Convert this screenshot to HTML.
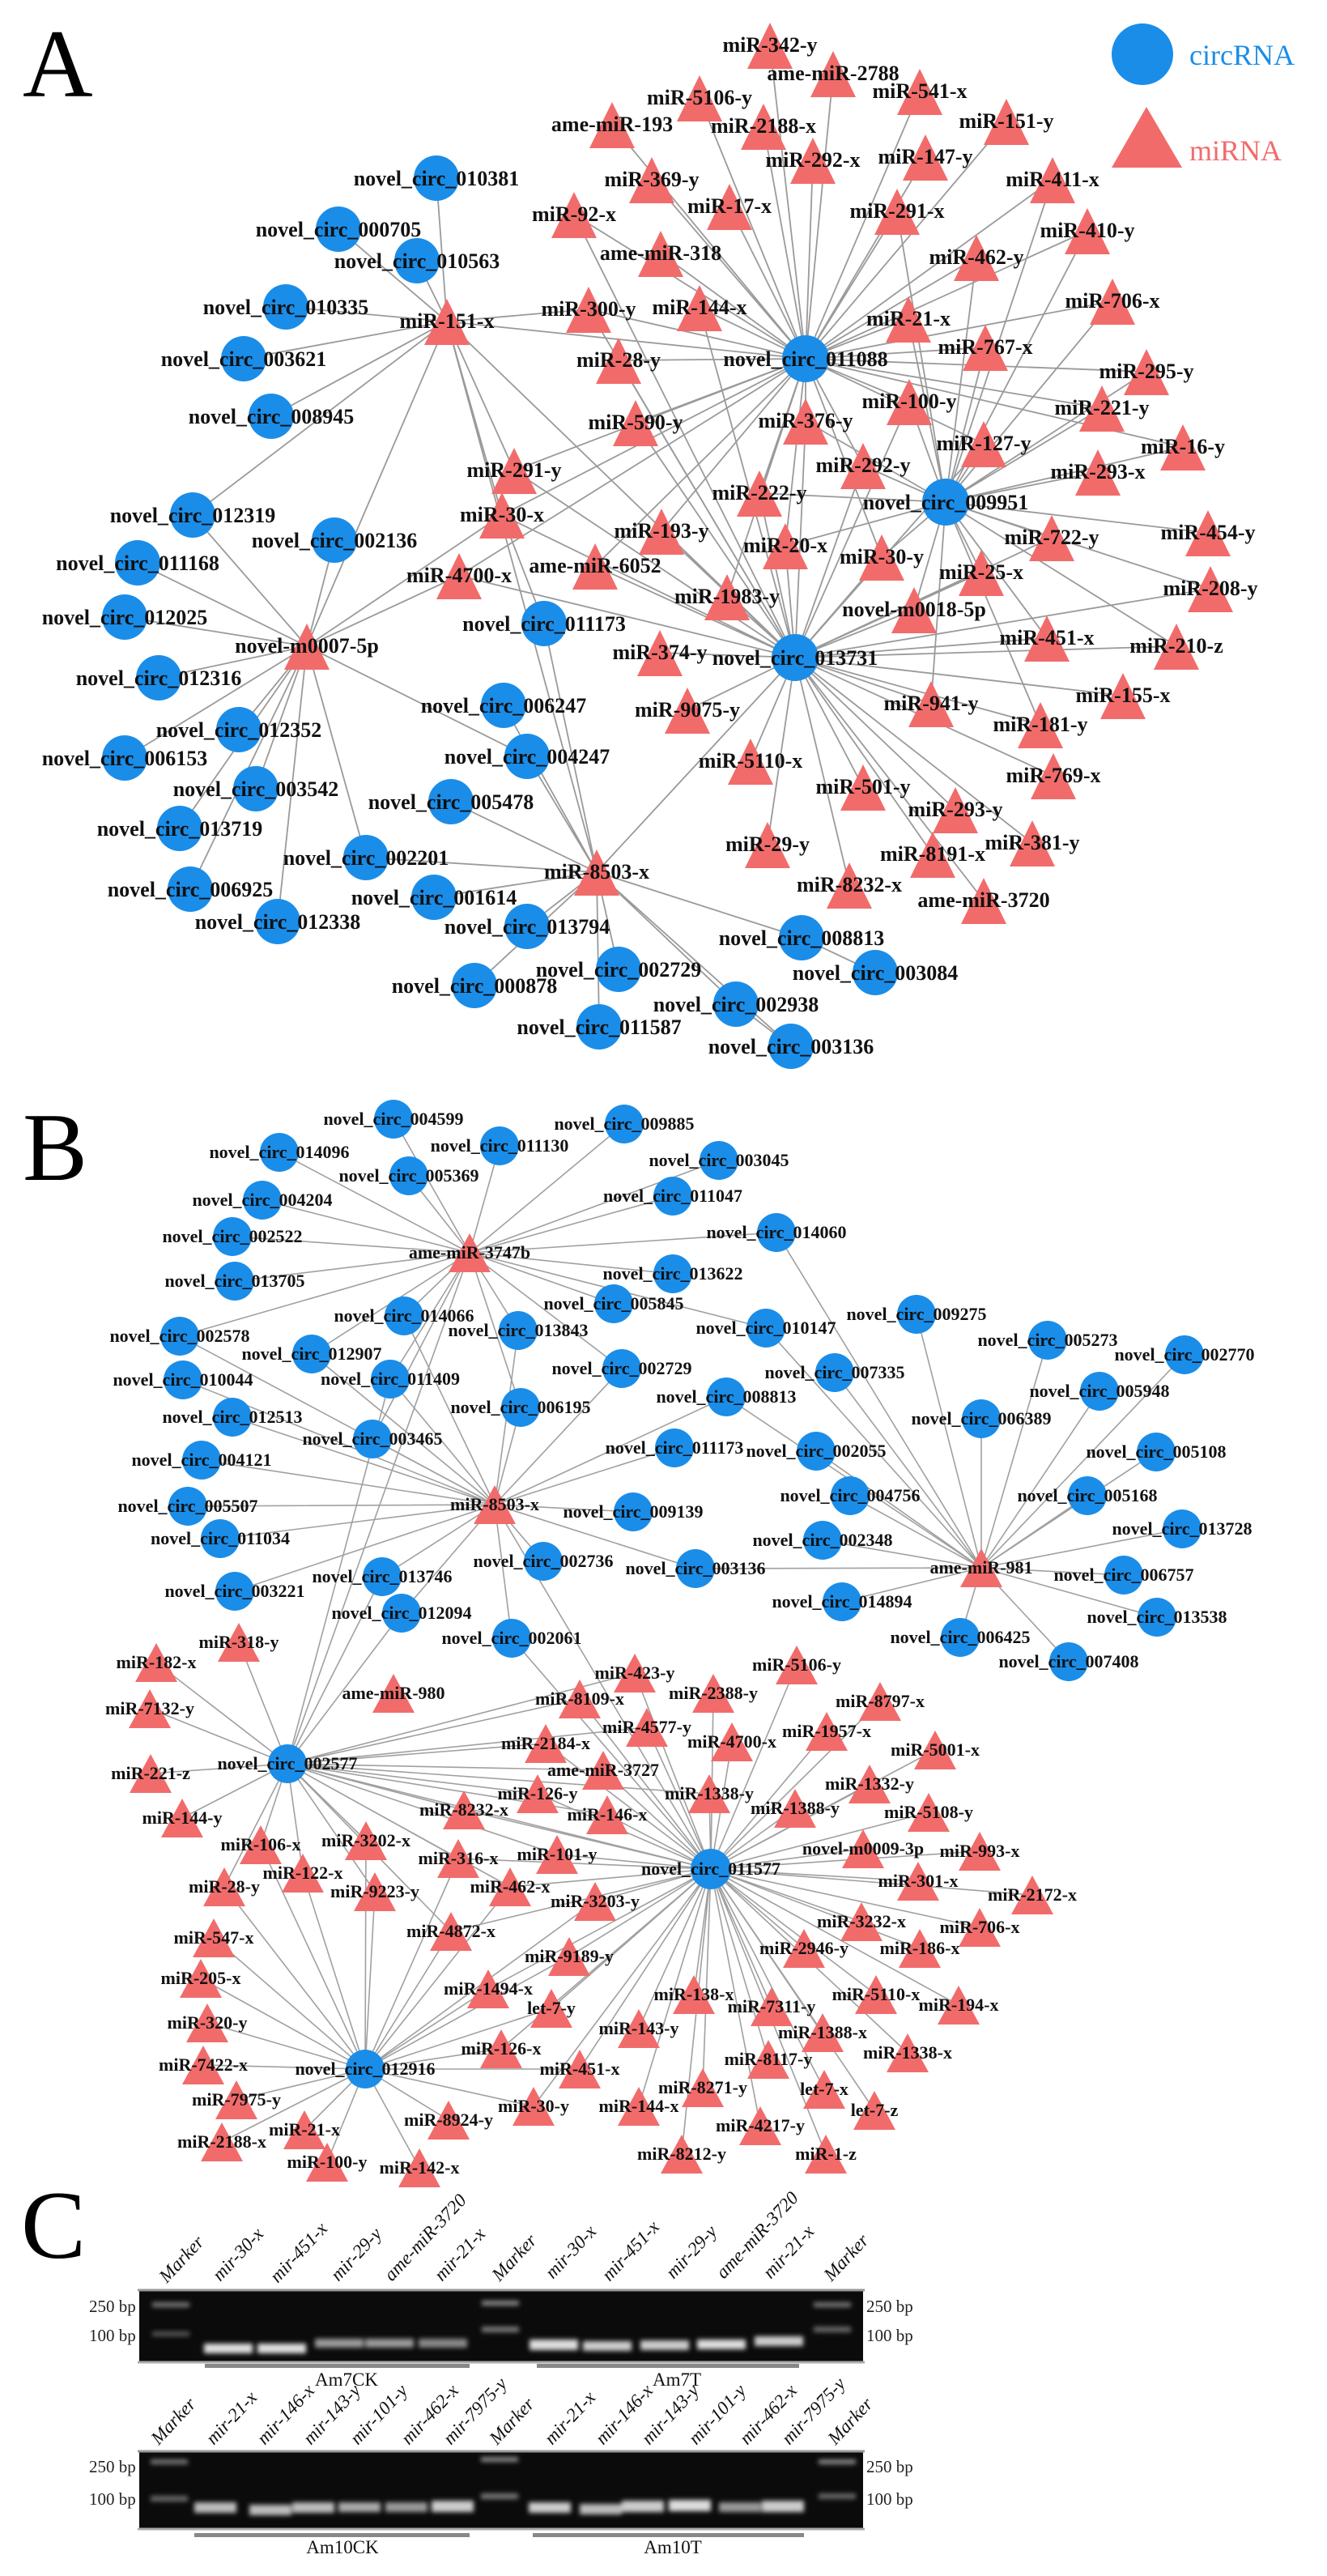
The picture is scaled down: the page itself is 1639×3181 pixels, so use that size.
<!DOCTYPE html>
<html><head><meta charset="utf-8"><style>
html,body{margin:0;padding:0;background:#fff}
svg{display:block}
text{font-family:"Liberation Serif","Times New Roman",serif}
.a{font-size:26px;font-weight:bold;text-anchor:middle;fill:#111}
.b{font-size:22px;font-weight:bold;text-anchor:middle;fill:#111}
.g{font-size:23px;font-style:italic;fill:#111}
.bp{font-size:21px;fill:#222}
.sm{font-size:23px;fill:#111;text-anchor:middle}
.big{font-size:120px;fill:#000}
</style></head><body>
<svg width="1639" height="3181" viewBox="0 0 1639 3181" xmlns="http://www.w3.org/2000/svg">
<defs><filter id="bl" x="-30%" y="-100%" width="160%" height="300%"><feGaussianBlur stdDeviation="3"/></filter></defs>
<rect width="1639" height="3181" fill="#fff"/>
<text class="big" x="28" y="119">A</text>
<text class="big" x="28" y="1457">B</text>
<text class="big" x="26" y="2788">C</text>

<!-- legend -->
<circle cx="1411" cy="67" r="38" fill="#1a8de9"/>
<text x="1469" y="80" style="font-size:36px;fill:#1a8de9">circRNA</text>
<path d="M1416 132L1460 207H1373Z" fill="#f26b6b"/>
<text x="1469" y="198" style="font-size:36px;fill:#f26b6b">miRNA</text>

<!-- EDGES A -->
<g stroke="#9a9a9a" stroke-width="1.8" fill="none">
<path d="M995 443L951 56M995 443L1029 91M995 443L864 121M995 443L1136 113M995 443L756 154M995 443L943 156M995 443L1243 150M995 443L1004 198M995 443L1143 194M995 443L1300 222M995 443L805 222M995 443L901 255M995 443L709 265M995 443L1108 261M995 443L816 313M995 443L1343 285M995 443L1206 318M995 443L727 382M995 443L864 380M995 443L1374 372M995 443L1122 394M995 443L552 397M995 443L1217 429M995 443L764 445M995 443L1123 496M995 443L1416 459M995 443L1361 504M995 443L785 522M995 443L995 520M995 443L1215 548M995 443L1461 552M995 443L1066 575M995 443L938 609M995 443L620 636M995 443L635 581M995 443L567 711M995 443L735 699M995 443L817 656M995 443L970 674M995 443L898 737M995 443L1089 688"/>
<path d="M1168 620L1343 285M1168 620L1206 318M1168 620L1374 372M1168 620L1122 394M1168 620L1217 429M1168 620L1123 496M1168 620L1361 504M1168 620L1215 548M1168 620L1461 552M1168 620L1356 583M1168 620L1299 664M1168 620L1492 658M1168 620L1495 727M1168 620L1212 707M1168 620L1089 688M1168 620L1129 753M1168 620L1293 788M1168 620L1453 798M1168 620L1285 895M1168 620L1066 575M1168 620L995 520M1168 620L1300 222M1168 620L938 609M1168 620L970 674M1168 620L1150 869M1168 620L1416 459M1168 620L1108 261"/>
<path d="M982 812L635 581M982 812L620 636M982 812L567 711M982 812L735 699M982 812L817 656M982 812L938 609M982 812L970 674M982 812L898 737M982 812L815 806M982 812L849 877M982 812L927 940M982 812L948 1043M982 812L1049 1093M982 812L1066 972M982 812L1152 1055M982 812L1180 1000M982 812L1215 1112M982 812L1275 1041M982 812L1301 958M982 812L1150 869M982 812L1285 895M982 812L1387 859M982 812L1293 788M982 812L1453 798M982 812L1495 727M982 812L1212 707M982 812L1129 753M982 812L1089 688M982 812L1066 575M982 812L995 520M982 812L785 522M982 812L764 445M982 812L727 382M982 812L864 380M982 812L737 1077M982 812L1299 664M982 812L1215 548M982 812L1123 496M982 812L552 397M982 812L709 265"/>
<path d="M552 397L539 220M552 397L418 283M552 397L515 322M552 397L353 379M552 397L301 443M552 397L335 514M552 397L635 581M552 397L620 636M552 397L379 798M552 397L238 636M552 397L737 1077M552 397L727 382"/>
<path d="M379 798L238 636M379 798L413 667M379 798L170 695M379 798L154 762M379 798L196 837M379 798L295 901M379 798L154 936M379 798L316 974M379 798L222 1023M379 798L235 1098M379 798L343 1138M379 798L452 1059M379 798L567 711M379 798L620 636M379 798L651 934"/>
<path d="M737 1077L672 770M737 1077L622 871M737 1077L651 934M737 1077L557 990M737 1077L452 1059M737 1077L536 1108M737 1077L651 1144M737 1077L586 1217M737 1077L764 1197M737 1077L740 1268M737 1077L990 1158M737 1077L909 1240M737 1077L977 1292M990 1158L1081 1201M909 1240L977 1292M672 770L620 636"/>
</g>

<!-- EDGES B -->
<g stroke="#a0a0a0" stroke-width="1.6" fill="none">
<path d="M580 1547L486 1382M580 1547L771 1388M580 1547L617 1415M580 1547L345 1423M580 1547L888 1433M580 1547L505 1452M580 1547L324 1482M580 1547L831 1477M580 1547L287 1527M580 1547L959 1522M580 1547L290 1582M580 1547L831 1573M580 1547L758 1610M580 1547L499 1625M580 1547L640 1643M580 1547L222 1650M580 1547L385 1672M580 1547L482 1703M580 1547L946 1640M580 1547L768 1690M580 1547L643 1738M580 1547L355 2178M580 1547L460 1777"/>
<path d="M611 1858L226 1704M611 1858L482 1703M611 1858L897 1725M611 1858L643 1738M611 1858L287 1750M611 1858L460 1777M611 1858L833 1788M611 1858L249 1803M611 1858L232 1860M611 1858L782 1867M611 1858L272 1900M611 1858L671 1928M611 1858L859 1937M611 1858L472 1947M611 1858L290 1965M611 1858L496 1992M611 1858L632 2023M611 1858L499 1625M611 1858L640 1643M611 1858L768 1690M611 1858L385 1672M611 1858L222 1650M611 1858L878 2308"/>
<path d="M1212 1936L1132 1623M1212 1936L1294 1655M1212 1936L1463 1673M1212 1936L1358 1718M1212 1936L1212 1752M1212 1936L1428 1793M1212 1936L1343 1847M1212 1936L1460 1888M1212 1936L1388 1945M1212 1936L1429 1997M1212 1936L1320 2052M1212 1936L1186 2022M1212 1936L1040 1978M1212 1936L1016 1902M1212 1936L1050 1847M1212 1936L1008 1792M1212 1936L1031 1695M1212 1936L946 1640M1212 1936L959 1522M1212 1936L859 1937M1212 1936L897 1725"/>
<path d="M355 2178L295 2028M355 2178L193 2053M355 2178L185 2110M355 2178L186 2190M355 2178L225 2245M355 2178L322 2278M355 2178L452 2273M355 2178L374 2313M355 2178L277 2330M355 2178L463 2336M355 2178L573 2235M355 2178L566 2295M355 2178L664 2215M355 2178L750 2241M355 2178L716 2098M355 2178L784 2066M355 2178L674 2153M355 2178L799 2133M355 2178L745 2186M355 2178L876 2215M355 2178L688 2290M355 2178L630 2330M355 2178L496 1992M355 2178L472 1947M355 2178L878 2308M355 2178L557 2385M355 2178L482 1703"/>
<path d="M878 2308L784 2066M878 2308L984 2056M878 2308L716 2098M878 2308L881 2091M878 2308L1087 2101M878 2308L799 2133M878 2308L1021 2138M878 2308L674 2153M878 2308L904 2151M878 2308L1155 2161M878 2308L745 2186M878 2308L664 2215M878 2308L876 2215M878 2308L1074 2203M878 2308L573 2235M878 2308L750 2241M878 2308L982 2233M878 2308L1147 2238M878 2308L566 2295M878 2308L688 2290M878 2308L1066 2283M878 2308L1210 2286M878 2308L630 2330M878 2308L1134 2323M878 2308L1275 2340M878 2308L735 2348M878 2308L1064 2373M878 2308L1210 2380M878 2308L557 2385M878 2308L993 2406M878 2308L1136 2406M878 2308L703 2416M878 2308L603 2456M878 2308L857 2463M878 2308L1082 2463M878 2308L1184 2476M878 2308L681 2480M878 2308L953 2478M878 2308L789 2505M878 2308L1016 2510M878 2308L619 2530M878 2308L1121 2535M878 2308L716 2555M878 2308L949 2543M878 2308L659 2601M878 2308L789 2601M878 2308L868 2578M878 2308L1018 2580M878 2308L1080 2606M878 2308L939 2625M878 2308L842 2660M878 2308L1020 2660M878 2308L632 2023"/>
<path d="M451 2555L264 2393M451 2555L248 2443M451 2555L256 2498M451 2555L251 2550M451 2555L292 2593M451 2555L274 2645M451 2555L376 2630M451 2555L404 2670M451 2555L518 2677M451 2555L554 2618M451 2555L659 2601M451 2555L716 2555M451 2555L619 2530M451 2555L681 2480M451 2555L603 2456M451 2555L703 2416M451 2555L557 2385M451 2555L735 2348M451 2555L463 2336M451 2555L452 2273M451 2555L374 2313M451 2555L322 2278M451 2555L277 2330M451 2555L566 2295M451 2555L630 2330"/>
</g>

<!-- NODES A -->
<g fill="#1a8de9">
<circle cx="539" cy="220" r="28"/><circle cx="418" cy="283" r="28"/><circle cx="515" cy="322" r="28"/><circle cx="353" cy="379" r="28"/><circle cx="301" cy="443" r="28"/><circle cx="335" cy="514" r="28"/><circle cx="238" cy="636" r="28"/><circle cx="413" cy="667" r="28"/><circle cx="170" cy="695" r="28"/><circle cx="154" cy="762" r="28"/><circle cx="196" cy="837" r="28"/><circle cx="295" cy="901" r="28"/><circle cx="154" cy="936" r="28"/><circle cx="316" cy="974" r="28"/><circle cx="222" cy="1023" r="28"/><circle cx="235" cy="1098" r="28"/><circle cx="343" cy="1138" r="28"/><circle cx="452" cy="1059" r="28"/><circle cx="536" cy="1108" r="28"/><circle cx="651" cy="1144" r="28"/><circle cx="586" cy="1217" r="28"/><circle cx="622" cy="871" r="28"/><circle cx="651" cy="934" r="28"/><circle cx="557" cy="990" r="28"/><circle cx="672" cy="770" r="28"/><circle cx="764" cy="1197" r="28"/><circle cx="740" cy="1268" r="28"/><circle cx="990" cy="1158" r="28"/><circle cx="1081" cy="1201" r="28"/><circle cx="909" cy="1240" r="28"/><circle cx="977" cy="1292" r="28"/><circle cx="995" cy="443" r="29"/><circle cx="1168" cy="620" r="29"/><circle cx="982" cy="812" r="29"/>
</g>
<g fill="#f26b6b">
<path d="M951 28l28 57h-56zM1029 63l28 57h-56zM864 93l28 57h-56zM1136 85l28 57h-56zM756 126l28 57h-56zM943 128l28 57h-56zM1243 122l28 57h-56zM1004 170l28 57h-56zM1143 166l28 57h-56zM1300 194l28 57h-56zM805 194l28 57h-56zM901 227l28 57h-56zM709 237l28 57h-56zM1108 233l28 57h-56zM816 285l28 57h-56zM1343 257l28 57h-56zM1206 290l28 57h-56zM727 354l28 57h-56zM864 352l28 57h-56zM1374 344l28 57h-56zM1122 366l28 57h-56zM552 369l28 57h-56zM1217 401l28 57h-56zM764 417l28 57h-56zM1123 468l28 57h-56zM1416 431l28 57h-56zM1361 476l28 57h-56zM785 494l28 57h-56zM995 492l28 57h-56zM1215 520l28 57h-56zM1461 524l28 57h-56zM1066 547l28 57h-56zM1356 555l28 57h-56zM635 553l28 57h-56zM938 581l28 57h-56zM620 608l28 57h-56zM817 628l28 57h-56zM970 646l28 57h-56zM1299 636l28 57h-56zM1492 630l28 57h-56zM1089 660l28 57h-56zM1212 679l28 57h-56zM1495 699l28 57h-56zM567 683l28 57h-56zM735 671l28 57h-56zM898 709l28 57h-56zM1129 725l28 57h-56zM379 770l28 57h-56zM1293 760l28 57h-56zM1453 770l28 57h-56zM815 778l28 57h-56zM849 849l28 57h-56zM1387 831l28 57h-56zM1150 841l28 57h-56zM1285 867l28 57h-56zM927 912l28 57h-56zM1301 930l28 57h-56zM1066 944l28 57h-56zM1180 972l28 57h-56zM948 1015l28 57h-56zM1275 1013l28 57h-56zM1152 1027l28 57h-56zM1049 1065l28 57h-56zM1215 1084l28 57h-56zM737 1049l28 57h-56z"/>
</g>

<!-- LABELS A -->
<g class="a">
<text class="a" x="539" y="229">novel_circ_010381</text><text class="a" x="418" y="292">novel_circ_000705</text><text class="a" x="515" y="331">novel_circ_010563</text><text class="a" x="353" y="388">novel_circ_010335</text><text class="a" x="301" y="452">novel_circ_003621</text><text class="a" x="335" y="523">novel_circ_008945</text><text class="a" x="238" y="645">novel_circ_012319</text><text class="a" x="413" y="676">novel_circ_002136</text><text class="a" x="170" y="704">novel_circ_011168</text><text class="a" x="154" y="771">novel_circ_012025</text><text class="a" x="196" y="846">novel_circ_012316</text><text class="a" x="295" y="910">novel_circ_012352</text><text class="a" x="154" y="945">novel_circ_006153</text><text class="a" x="316" y="983">novel_circ_003542</text><text class="a" x="222" y="1032">novel_circ_013719</text><text class="a" x="235" y="1107">novel_circ_006925</text><text class="a" x="343" y="1147">novel_circ_012338</text><text class="a" x="452" y="1068">novel_circ_002201</text><text class="a" x="536" y="1117">novel_circ_001614</text><text class="a" x="651" y="1153">novel_circ_013794</text><text class="a" x="586" y="1226">novel_circ_000878</text><text class="a" x="622" y="880">novel_circ_006247</text><text class="a" x="651" y="943">novel_circ_004247</text><text class="a" x="557" y="999">novel_circ_005478</text><text class="a" x="672" y="779">novel_circ_011173</text><text class="a" x="764" y="1206">novel_circ_002729</text><text class="a" x="740" y="1277">novel_circ_011587</text><text class="a" x="990" y="1167">novel_circ_008813</text><text class="a" x="1081" y="1210">novel_circ_003084</text><text class="a" x="909" y="1249">novel_circ_002938</text><text class="a" x="977" y="1301">novel_circ_003136</text><text class="a" x="995" y="452">novel_circ_011088</text><text class="a" x="1168" y="629">novel_circ_009951</text><text class="a" x="982" y="821">novel_circ_013731</text>
<text class="a" x="951" y="64">miR-342-y</text><text class="a" x="1029" y="99">ame-miR-2788</text><text class="a" x="864" y="129">miR-5106-y</text><text class="a" x="1136" y="121">miR-541-x</text><text class="a" x="756" y="162">ame-miR-193</text><text class="a" x="943" y="164">miR-2188-x</text><text class="a" x="1243" y="158">miR-151-y</text><text class="a" x="1004" y="206">miR-292-x</text><text class="a" x="1143" y="202">miR-147-y</text><text class="a" x="1300" y="230">miR-411-x</text><text class="a" x="805" y="230">miR-369-y</text><text class="a" x="901" y="263">miR-17-x</text><text class="a" x="709" y="273">miR-92-x</text><text class="a" x="1108" y="269">miR-291-x</text><text class="a" x="816" y="321">ame-miR-318</text><text class="a" x="1343" y="293">miR-410-y</text><text class="a" x="1206" y="326">miR-462-y</text><text class="a" x="727" y="390">miR-300-y</text><text class="a" x="864" y="388">miR-144-x</text><text class="a" x="1374" y="380">miR-706-x</text><text class="a" x="1122" y="402">miR-21-x</text><text class="a" x="552" y="405">miR-151-x</text><text class="a" x="1217" y="437">miR-767-x</text><text class="a" x="764" y="453">miR-28-y</text><text class="a" x="1123" y="504">miR-100-y</text><text class="a" x="1416" y="467">miR-295-y</text><text class="a" x="1361" y="512">miR-221-y</text><text class="a" x="785" y="530">miR-590-y</text><text class="a" x="995" y="528">miR-376-y</text><text class="a" x="1215" y="556">miR-127-y</text><text class="a" x="1461" y="560">miR-16-y</text><text class="a" x="1066" y="583">miR-292-y</text><text class="a" x="1356" y="591">miR-293-x</text><text class="a" x="635" y="589">miR-291-y</text><text class="a" x="938" y="617">miR-222-y</text><text class="a" x="620" y="644">miR-30-x</text><text class="a" x="817" y="664">miR-193-y</text><text class="a" x="970" y="682">miR-20-x</text><text class="a" x="1299" y="672">miR-722-y</text><text class="a" x="1492" y="666">miR-454-y</text><text class="a" x="1089" y="696">miR-30-y</text><text class="a" x="1212" y="715">miR-25-x</text><text class="a" x="1495" y="735">miR-208-y</text><text class="a" x="567" y="719">miR-4700-x</text><text class="a" x="735" y="707">ame-miR-6052</text><text class="a" x="898" y="745">miR-1983-y</text><text class="a" x="1129" y="761">novel-m0018-5p</text><text class="a" x="379" y="806">novel-m0007-5p</text><text class="a" x="1293" y="796">miR-451-x</text><text class="a" x="1453" y="806">miR-210-z</text><text class="a" x="815" y="814">miR-374-y</text><text class="a" x="849" y="885">miR-9075-y</text><text class="a" x="1387" y="867">miR-155-x</text><text class="a" x="1150" y="877">miR-941-y</text><text class="a" x="1285" y="903">miR-181-y</text><text class="a" x="927" y="948">miR-5110-x</text><text class="a" x="1301" y="966">miR-769-x</text><text class="a" x="1066" y="980">miR-501-y</text><text class="a" x="1180" y="1008">miR-293-y</text><text class="a" x="948" y="1051">miR-29-y</text><text class="a" x="1275" y="1049">miR-381-y</text><text class="a" x="1152" y="1063">miR-8191-x</text><text class="a" x="1049" y="1101">miR-8232-x</text><text class="a" x="1215" y="1120">ame-miR-3720</text><text class="a" x="737" y="1085">miR-8503-x</text>
</g>

<!-- NODES B -->
<g fill="#1a8de9">
<circle cx="486" cy="1382" r="24"/><circle cx="771" cy="1388" r="24"/><circle cx="617" cy="1415" r="24"/><circle cx="345" cy="1423" r="24"/><circle cx="888" cy="1433" r="24"/><circle cx="505" cy="1452" r="24"/><circle cx="324" cy="1482" r="24"/><circle cx="831" cy="1477" r="24"/><circle cx="287" cy="1527" r="24"/><circle cx="959" cy="1522" r="24"/><circle cx="290" cy="1582" r="24"/><circle cx="831" cy="1573" r="24"/><circle cx="758" cy="1610" r="24"/><circle cx="499" cy="1625" r="24"/><circle cx="1132" cy="1623" r="24"/><circle cx="946" cy="1640" r="24"/><circle cx="640" cy="1643" r="24"/><circle cx="222" cy="1650" r="24"/><circle cx="1294" cy="1655" r="24"/><circle cx="385" cy="1672" r="24"/><circle cx="1463" cy="1673" r="24"/><circle cx="768" cy="1690" r="24"/><circle cx="1031" cy="1695" r="24"/><circle cx="482" cy="1703" r="24"/><circle cx="226" cy="1704" r="24"/><circle cx="1358" cy="1718" r="24"/><circle cx="897" cy="1725" r="24"/><circle cx="643" cy="1738" r="24"/><circle cx="287" cy="1750" r="24"/><circle cx="1212" cy="1752" r="24"/><circle cx="460" cy="1777" r="24"/><circle cx="833" cy="1788" r="24"/><circle cx="1008" cy="1792" r="24"/><circle cx="1428" cy="1793" r="24"/><circle cx="249" cy="1803" r="24"/><circle cx="1050" cy="1847" r="24"/><circle cx="1343" cy="1847" r="24"/><circle cx="232" cy="1860" r="24"/><circle cx="782" cy="1867" r="24"/><circle cx="1460" cy="1888" r="24"/><circle cx="272" cy="1900" r="24"/><circle cx="1016" cy="1902" r="24"/><circle cx="671" cy="1928" r="24"/><circle cx="859" cy="1937" r="24"/><circle cx="1388" cy="1945" r="24"/><circle cx="472" cy="1947" r="24"/><circle cx="290" cy="1965" r="24"/><circle cx="1040" cy="1978" r="24"/><circle cx="1429" cy="1997" r="24"/><circle cx="496" cy="1992" r="24"/><circle cx="1186" cy="2022" r="24"/><circle cx="632" cy="2023" r="24"/><circle cx="1320" cy="2052" r="24"/><circle cx="355" cy="2178" r="24"/><circle cx="878" cy="2308" r="25"/><circle cx="451" cy="2555" r="24"/>
</g>
<g fill="#f26b6b">
<path d="M580 1523l26 48h-52zM611 1834l26 48h-52zM1212 1912l26 48h-52zM295 2004l26 48h-52zM193 2029l26 48h-52zM486 2067l26 48h-52zM784 2042l26 48h-52zM984 2032l26 48h-52zM185 2086l26 48h-52zM716 2074l26 48h-52zM881 2067l26 48h-52zM1087 2077l26 48h-52zM799 2109l26 48h-52zM1021 2114l26 48h-52zM674 2129l26 48h-52zM904 2127l26 48h-52zM1155 2137l26 48h-52zM745 2162l26 48h-52zM186 2166l26 48h-52zM664 2191l26 48h-52zM876 2191l26 48h-52zM1074 2179l26 48h-52zM225 2221l26 48h-52zM573 2211l26 48h-52zM750 2217l26 48h-52zM982 2209l26 48h-52zM1147 2214l26 48h-52zM322 2254l26 48h-52zM452 2249l26 48h-52zM566 2271l26 48h-52zM688 2266l26 48h-52zM1066 2259l26 48h-52zM1210 2262l26 48h-52zM374 2289l26 48h-52zM277 2306l26 48h-52zM463 2312l26 48h-52zM630 2306l26 48h-52zM1134 2299l26 48h-52zM1275 2316l26 48h-52zM735 2324l26 48h-52zM1064 2349l26 48h-52zM1210 2356l26 48h-52zM557 2361l26 48h-52zM264 2369l26 48h-52zM993 2382l26 48h-52zM1136 2382l26 48h-52zM703 2392l26 48h-52zM248 2419l26 48h-52zM603 2432l26 48h-52zM857 2439l26 48h-52zM1082 2439l26 48h-52zM1184 2452l26 48h-52zM681 2456l26 48h-52zM953 2454l26 48h-52zM256 2474l26 48h-52zM789 2481l26 48h-52zM1016 2486l26 48h-52zM619 2506l26 48h-52zM1121 2511l26 48h-52zM251 2526l26 48h-52zM716 2531l26 48h-52zM949 2519l26 48h-52zM292 2569l26 48h-52zM659 2577l26 48h-52zM789 2577l26 48h-52zM868 2554l26 48h-52zM1018 2556l26 48h-52zM1080 2582l26 48h-52zM554 2594l26 48h-52zM376 2606l26 48h-52zM939 2601l26 48h-52zM274 2621l26 48h-52zM842 2636l26 48h-52zM1020 2636l26 48h-52zM404 2646l26 48h-52zM518 2653l26 48h-52z"/>
</g>

<!-- LABELS B -->
<g>
<text class="b" x="486" y="1389">novel_circ_004599</text><text class="b" x="771" y="1395">novel_circ_009885</text><text class="b" x="617" y="1422">novel_circ_011130</text><text class="b" x="345" y="1430">novel_circ_014096</text><text class="b" x="888" y="1440">novel_circ_003045</text><text class="b" x="505" y="1459">novel_circ_005369</text><text class="b" x="324" y="1489">novel_circ_004204</text><text class="b" x="831" y="1484">novel_circ_011047</text><text class="b" x="287" y="1534">novel_circ_002522</text><text class="b" x="959" y="1529">novel_circ_014060</text><text class="b" x="290" y="1589">novel_circ_013705</text><text class="b" x="831" y="1580">novel_circ_013622</text><text class="b" x="758" y="1617">novel_circ_005845</text><text class="b" x="499" y="1632">novel_circ_014066</text><text class="b" x="1132" y="1630">novel_circ_009275</text><text class="b" x="946" y="1647">novel_circ_010147</text><text class="b" x="640" y="1650">novel_circ_013843</text><text class="b" x="222" y="1657">novel_circ_002578</text><text class="b" x="1294" y="1662">novel_circ_005273</text><text class="b" x="385" y="1679">novel_circ_012907</text><text class="b" x="1463" y="1680">novel_circ_002770</text><text class="b" x="768" y="1697">novel_circ_002729</text><text class="b" x="1031" y="1702">novel_circ_007335</text><text class="b" x="482" y="1710">novel_circ_011409</text><text class="b" x="226" y="1711">novel_circ_010044</text><text class="b" x="1358" y="1725">novel_circ_005948</text><text class="b" x="897" y="1732">novel_circ_008813</text><text class="b" x="643" y="1745">novel_circ_006195</text><text class="b" x="287" y="1757">novel_circ_012513</text><text class="b" x="1212" y="1759">novel_circ_006389</text><text class="b" x="460" y="1784">novel_circ_003465</text><text class="b" x="833" y="1795">novel_circ_011173</text><text class="b" x="1008" y="1799">novel_circ_002055</text><text class="b" x="1428" y="1800">novel_circ_005108</text><text class="b" x="249" y="1810">novel_circ_004121</text><text class="b" x="1050" y="1854">novel_circ_004756</text><text class="b" x="1343" y="1854">novel_circ_005168</text><text class="b" x="232" y="1867">novel_circ_005507</text><text class="b" x="782" y="1874">novel_circ_009139</text><text class="b" x="1460" y="1895">novel_circ_013728</text><text class="b" x="272" y="1907">novel_circ_011034</text><text class="b" x="1016" y="1909">novel_circ_002348</text><text class="b" x="671" y="1935">novel_circ_002736</text><text class="b" x="859" y="1944">novel_circ_003136</text><text class="b" x="1388" y="1952">novel_circ_006757</text><text class="b" x="472" y="1954">novel_circ_013746</text><text class="b" x="290" y="1972">novel_circ_003221</text><text class="b" x="1040" y="1985">novel_circ_014894</text><text class="b" x="1429" y="2004">novel_circ_013538</text><text class="b" x="496" y="1999">novel_circ_012094</text><text class="b" x="1186" y="2029">novel_circ_006425</text><text class="b" x="632" y="2030">novel_circ_002061</text><text class="b" x="1320" y="2059">novel_circ_007408</text><text class="b" x="355" y="2185">novel_circ_002577</text><text class="b" x="878" y="2315">novel_circ_011577</text><text class="b" x="451" y="2562">novel_circ_012916</text>
<text class="b" x="580" y="1554">ame-miR-3747b</text><text class="b" x="611" y="1865">miR-8503-x</text><text class="b" x="1212" y="1943">ame-miR-981</text>
<text class="b" x="295" y="2035">miR-318-y</text><text class="b" x="193" y="2060">miR-182-x</text><text class="b" x="486" y="2098">ame-miR-980</text><text class="b" x="784" y="2073">miR-423-y</text><text class="b" x="984" y="2063">miR-5106-y</text><text class="b" x="185" y="2117">miR-7132-y</text><text class="b" x="716" y="2105">miR-8109-x</text><text class="b" x="881" y="2098">miR-2388-y</text><text class="b" x="1087" y="2108">miR-8797-x</text><text class="b" x="799" y="2140">miR-4577-y</text><text class="b" x="1021" y="2145">miR-1957-x</text><text class="b" x="674" y="2160">miR-2184-x</text><text class="b" x="904" y="2158">miR-4700-x</text><text class="b" x="1155" y="2168">miR-5001-x</text><text class="b" x="745" y="2193">ame-miR-3727</text><text class="b" x="186" y="2197">miR-221-z</text><text class="b" x="664" y="2222">miR-126-y</text><text class="b" x="876" y="2222">miR-1338-y</text><text class="b" x="1074" y="2210">miR-1332-y</text><text class="b" x="225" y="2252">miR-144-y</text><text class="b" x="573" y="2242">miR-8232-x</text><text class="b" x="750" y="2248">miR-146-x</text><text class="b" x="982" y="2240">miR-1388-y</text><text class="b" x="1147" y="2245">miR-5108-y</text><text class="b" x="322" y="2285">miR-106-x</text><text class="b" x="452" y="2280">miR-3202-x</text><text class="b" x="566" y="2302">miR-316-x</text><text class="b" x="688" y="2297">miR-101-y</text><text class="b" x="1066" y="2290">novel-m0009-3p</text><text class="b" x="1210" y="2293">miR-993-x</text><text class="b" x="374" y="2320">miR-122-x</text><text class="b" x="277" y="2337">miR-28-y</text><text class="b" x="463" y="2343">miR-9223-y</text><text class="b" x="630" y="2337">miR-462-x</text><text class="b" x="1134" y="2330">miR-301-x</text><text class="b" x="1275" y="2347">miR-2172-x</text><text class="b" x="735" y="2355">miR-3203-y</text><text class="b" x="1064" y="2380">miR-3232-x</text><text class="b" x="1210" y="2387">miR-706-x</text><text class="b" x="557" y="2392">miR-4872-x</text><text class="b" x="264" y="2400">miR-547-x</text><text class="b" x="993" y="2413">miR-2946-y</text><text class="b" x="1136" y="2413">miR-186-x</text><text class="b" x="703" y="2423">miR-9189-y</text><text class="b" x="248" y="2450">miR-205-x</text><text class="b" x="603" y="2463">miR-1494-x</text><text class="b" x="857" y="2470">miR-138-x</text><text class="b" x="1082" y="2470">miR-5110-x</text><text class="b" x="1184" y="2483">miR-194-x</text><text class="b" x="681" y="2487">let-7-y</text><text class="b" x="953" y="2485">miR-7311-y</text><text class="b" x="256" y="2505">miR-320-y</text><text class="b" x="789" y="2512">miR-143-y</text><text class="b" x="1016" y="2517">miR-1388-x</text><text class="b" x="619" y="2537">miR-126-x</text><text class="b" x="1121" y="2542">miR-1338-x</text><text class="b" x="251" y="2557">miR-7422-x</text><text class="b" x="716" y="2562">miR-451-x</text><text class="b" x="949" y="2550">miR-8117-y</text><text class="b" x="292" y="2600">miR-7975-y</text><text class="b" x="659" y="2608">miR-30-y</text><text class="b" x="789" y="2608">miR-144-x</text><text class="b" x="868" y="2585">miR-8271-y</text><text class="b" x="1018" y="2587">let-7-x</text><text class="b" x="1080" y="2613">let-7-z</text><text class="b" x="554" y="2625">miR-8924-y</text><text class="b" x="376" y="2637">miR-21-x</text><text class="b" x="939" y="2632">miR-4217-y</text><text class="b" x="274" y="2652">miR-2188-x</text><text class="b" x="842" y="2667">miR-8212-y</text><text class="b" x="1020" y="2667">miR-1-z</text><text class="b" x="404" y="2677">miR-100-y</text><text class="b" x="518" y="2684">miR-142-x</text>
</g>

<!-- PANEL C -->
<g class="g">
<text transform="translate(206,2820) rotate(-47)">Marker</text>
<text transform="translate(272,2818) rotate(-47)">mir-30-x</text>
<text transform="translate(343,2820) rotate(-47)">mir-451-x</text>
<text transform="translate(418,2818) rotate(-47)">mir-29-y</text>
<text transform="translate(484,2818) rotate(-47)">ame-miR-3720</text>
<text transform="translate(546,2818) rotate(-47)">mir-21-x</text>
<text transform="translate(617,2818) rotate(-47)">Marker</text>
<text transform="translate(683,2815) rotate(-47)">mir-30-x</text>
<text transform="translate(753,2818) rotate(-47)">mir-451-x</text>
<text transform="translate(832,2815) rotate(-47)">mir-29-y</text>
<text transform="translate(894,2815) rotate(-47)">ame-miR-3720</text>
<text transform="translate(952,2815) rotate(-47)">mir-21-x</text>
<text transform="translate(1027,2818) rotate(-47)">Marker</text>

<text transform="translate(196,3020) rotate(-47)">Marker</text>
<text transform="translate(264,3020) rotate(-47)">mir-21-x</text>
<text transform="translate(327,3020) rotate(-47)">mir-146-x</text>
<text transform="translate(384,3020) rotate(-47)">mir-143-y</text>
<text transform="translate(442,3020) rotate(-47)">mir-101-y</text>
<text transform="translate(505,3020) rotate(-47)">mir-462-x</text>
<text transform="translate(557,3020) rotate(-47)">mir-7975-y</text>
<text transform="translate(614,3020) rotate(-47)">Marker</text>
<text transform="translate(682,3020) rotate(-47)">mir-21-x</text>
<text transform="translate(745,3020) rotate(-47)">mir-146-x</text>
<text transform="translate(802,3020) rotate(-47)">mir-143-y</text>
<text transform="translate(860,3020) rotate(-47)">mir-101-y</text>
<text transform="translate(923,3020) rotate(-47)">mir-462-x</text>
<text transform="translate(975,3020) rotate(-47)">mir-7975-y</text>
<text transform="translate(1032,3020) rotate(-47)">Marker</text>
</g>

<!-- gels -->
<rect x="172" y="2828" width="894" height="89" fill="#0b0b0b"/>
<line x1="170" y1="2828" x2="1068" y2="2828" stroke="#999" stroke-width="3"/>
<line x1="170" y1="2917" x2="1068" y2="2917" stroke="#aaa" stroke-width="3"/>
<g filter="url(#bl)">
<rect x="188" y="2843" width="46" height="6" fill="#777"/><rect x="188" y="2879" width="46" height="6" fill="#555"/>
<rect x="595" y="2841" width="46" height="6" fill="#888"/><rect x="595" y="2873" width="46" height="7" fill="#777"/>
<rect x="1005" y="2843" width="46" height="6" fill="#777"/><rect x="1005" y="2873" width="46" height="7" fill="#666"/>
<rect x="252" y="2894" width="60" height="12" fill="#ddd"/><rect x="318" y="2894" width="60" height="12" fill="#ddd"/>
<rect x="389" y="2888" width="60" height="11" fill="#999"/><rect x="451" y="2888" width="60" height="11" fill="#999"/><rect x="517" y="2888" width="60" height="11" fill="#888"/>
<rect x="654" y="2889" width="60" height="13" fill="#ddd"/><rect x="720" y="2891" width="60" height="12" fill="#ccc"/><rect x="791" y="2890" width="60" height="12" fill="#ccc"/><rect x="861" y="2889" width="60" height="12" fill="#ddd"/><rect x="932" y="2885" width="60" height="12" fill="#ccc"/>
</g>
<rect x="172" y="3027" width="894" height="96" fill="#0b0b0b"/>
<line x1="170" y1="3027" x2="1068" y2="3027" stroke="#999" stroke-width="3"/>
<line x1="170" y1="3123" x2="1068" y2="3123" stroke="#aaa" stroke-width="3"/>
<g filter="url(#bl)">
<rect x="186" y="3037" width="46" height="6" fill="#777"/><rect x="186" y="3082" width="46" height="7" fill="#666"/>
<rect x="594" y="3034" width="46" height="6" fill="#888"/><rect x="594" y="3079" width="46" height="7" fill="#777"/>
<rect x="1011" y="3037" width="46" height="6" fill="#888"/><rect x="1011" y="3079" width="46" height="7" fill="#666"/>
<rect x="240" y="3090" width="52" height="13" fill="#bbb"/><rect x="308" y="3093" width="52" height="13" fill="#bbb"/><rect x="361" y="3090" width="52" height="13" fill="#bbb"/><rect x="418" y="3090" width="52" height="12" fill="#aaa"/><rect x="476" y="3090" width="52" height="12" fill="#999"/><rect x="533" y="3088" width="52" height="14" fill="#ccc"/>
<rect x="653" y="3090" width="52" height="13" fill="#ccc"/><rect x="716" y="3092" width="52" height="13" fill="#bbb"/><rect x="768" y="3088" width="52" height="14" fill="#ccc"/><rect x="826" y="3087" width="52" height="14" fill="#ddd"/><rect x="888" y="3090" width="52" height="12" fill="#999"/><rect x="941" y="3088" width="52" height="14" fill="#ccc"/>
</g>
<g class="bp">
<text class="bp" x="110" y="2855">250 bp</text><text class="bp" x="110" y="2891">100 bp</text>
<text class="bp" x="1070" y="2855">250 bp</text><text class="bp" x="1070" y="2891">100 bp</text>
<text class="bp" x="110" y="3053">250 bp</text><text class="bp" x="110" y="3093">100 bp</text>
<text class="bp" x="1070" y="3053">250 bp</text><text class="bp" x="1070" y="3093">100 bp</text>
</g>
<rect x="253" y="2919" width="327" height="5" fill="#888"/><rect x="663" y="2919" width="324" height="5" fill="#888"/>
<rect x="240" y="3128" width="340" height="5" fill="#888"/><rect x="658" y="3128" width="335" height="5" fill="#888"/>
<text class="sm" x="428" y="2946">Am7CK</text><text class="sm" x="836" y="2946">Am7T</text>
<text class="sm" x="423" y="3153">Am10CK</text><text class="sm" x="831" y="3153">Am10T</text>
</svg>
</body></html>
